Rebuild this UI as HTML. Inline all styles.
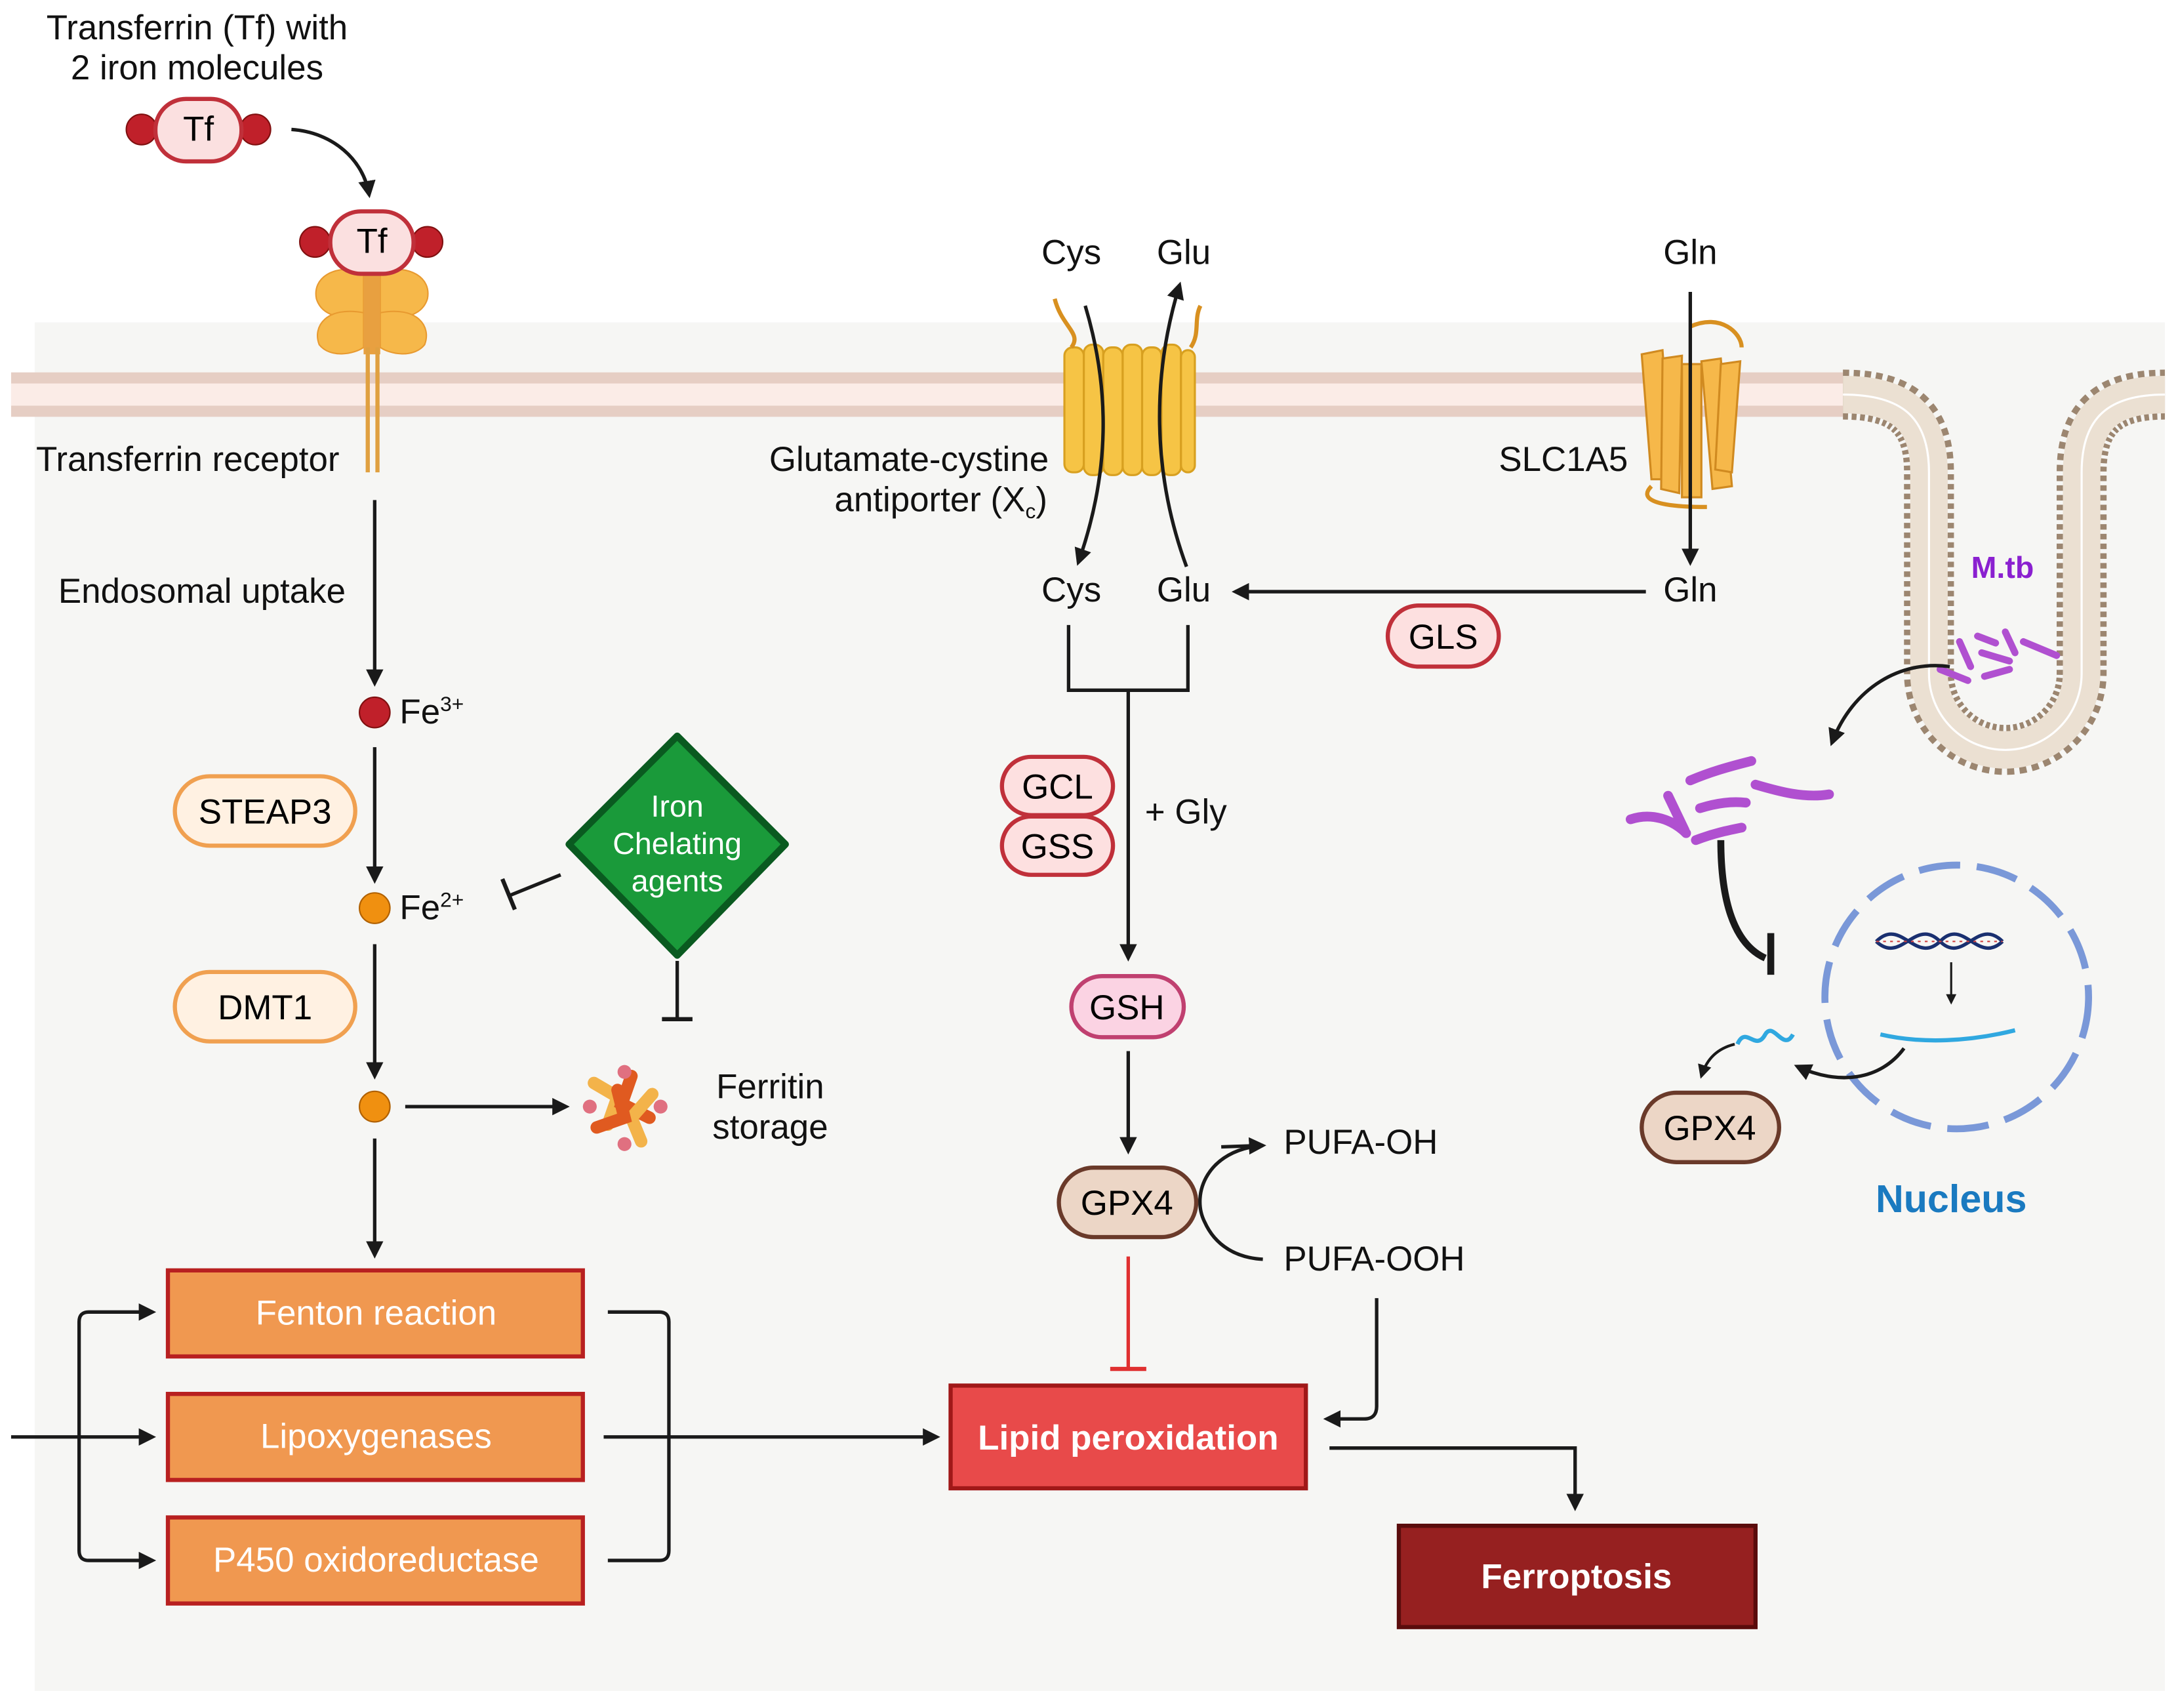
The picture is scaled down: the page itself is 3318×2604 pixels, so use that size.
<!DOCTYPE html>
<html><head><meta charset="utf-8"><style>
html,body{margin:0;padding:0;background:#fff;}
svg{display:block;}
text{font-family:"Liberation Sans",sans-serif;}
</style></head><body>
<svg width="3318" height="2604" viewBox="0 0 1568 1230" xmlns="http://www.w3.org/2000/svg">
<defs>
<marker id="a" viewBox="0 0 10 10" refX="8" refY="5" markerWidth="5" markerHeight="5" orient="auto-start-reverse"><path d="M0,0L10,5L0,10z" fill="#1a1a1a"/></marker>
</defs>
<rect x="25" y="232" width="1535" height="986" fill="#f6f6f4"/>
<!-- membrane -->
<rect x="8" y="268" width="1320" height="32" fill="#e6cec4"/>
<rect x="8" y="276" width="1320" height="16" fill="#fbece7"/>
<path d="M1328,284 C1370,284 1390,300 1390,340 L1390,485 A55,55 0 0 0 1500,485 L1500,340 C1500,300 1520,284 1560,284" fill="none" stroke="#9c8670" stroke-width="36" stroke-dasharray="4 3"/>
<path d="M1328,284 C1370,284 1390,300 1390,340 L1390,485 A55,55 0 0 0 1500,485 L1500,340 C1500,300 1520,284 1560,284" fill="none" stroke="#ebe0d2" stroke-width="27"/>
<path d="M1328,284 C1370,284 1390,300 1390,340 L1390,485 A55,55 0 0 0 1500,485 L1500,340 C1500,300 1520,284 1560,284" fill="none" stroke="#ffffff" stroke-width="1.5"/>

<g font-size="25" fill="#111">
<text x="142" y="28" text-anchor="middle">Transferrin (Tf) with</text>
<text x="142" y="57" text-anchor="middle">2 iron molecules</text>
<text x="26" y="339">Transferrin receptor</text>
<text x="42" y="434">Endosomal uptake</text>
<text x="772" y="190" text-anchor="middle">Cys</text>
<text x="853" y="190" text-anchor="middle">Glu</text>
<text x="1218" y="190" text-anchor="middle">Gln</text>
<text x="655" y="339" text-anchor="middle">Glutamate-cystine</text>
<text x="678" y="368" text-anchor="middle">antiporter (X<tspan font-size="15" dy="5">c</tspan><tspan dy="-5">)</tspan></text>
<text x="1080" y="339">SLC1A5</text>
<text x="772" y="433" text-anchor="middle">Cys</text>
<text x="853" y="433" text-anchor="middle">Glu</text>
<text x="1218" y="433" text-anchor="middle">Gln</text>
<text x="825" y="593">+ Gly</text>
<text x="288" y="521">Fe<tspan font-size="15" dy="-9">3+</tspan></text>
<text x="288" y="662">Fe<tspan font-size="15" dy="-9">2+</tspan></text>
<text x="555" y="791" text-anchor="middle">Ferritin</text>
<text x="555" y="820" text-anchor="middle">storage</text>
<text x="925" y="831">PUFA-OH</text>
<text x="925" y="915">PUFA-OOH</text>
</g>

<!-- Tf -->
<path d="M210,93 C240,95 262,115 266,140" fill="none" stroke="#1a1a1a" stroke-width="2.5" marker-end="url(#a)"/>
<circle cx="102" cy="93" r="11" fill="#c0202a" stroke="#801010"/><circle cx="184" cy="93" r="11" fill="#c0202a" stroke="#801010"/>
<rect x="112" y="71" width="62" height="45" rx="22" fill="#fbe0e0" stroke="#c0303a" stroke-width="3"/>
<text x="143" y="101" font-size="25" text-anchor="middle">Tf</text>
<!-- receptor -->
<path d="M262,195 C240,190 225,200 228,215 C232,228 245,228 262,232 Z M274,195 C296,190 311,200 308,215 C304,228 291,228 274,232Z" fill="#f6b84a" stroke="#e89a30"/>
<path d="M262,225 C235,220 225,235 230,248 C238,258 255,255 262,250Z M274,225 C301,220 311,235 306,248 C298,258 281,255 274,250Z" fill="#f6b84a" stroke="#e89a30"/>
<rect x="262" y="195" width="12" height="60" fill="#e8a040"/>
<line x1="265" y1="250" x2="265" y2="340" stroke="#e0a040" stroke-width="3"/><line x1="272" y1="250" x2="272" y2="340" stroke="#e0a040" stroke-width="3"/>
<circle cx="227" cy="174" r="11" fill="#c0202a" stroke="#801010"/><circle cx="308" cy="174" r="11" fill="#c0202a" stroke="#801010"/>
<rect x="238" y="152" width="60" height="45" rx="22" fill="#fbe0e0" stroke="#c0303a" stroke-width="3"/>
<text x="268" y="182" font-size="25" text-anchor="middle">Tf</text>

<!-- iron path -->
<g stroke="#1a1a1a" stroke-width="2.5" fill="none">
<line x1="270" y1="360" x2="270" y2="492" marker-end="url(#a)"/>
<line x1="270" y1="538" x2="270" y2="634" marker-end="url(#a)"/>
<line x1="270" y1="680" x2="270" y2="775" marker-end="url(#a)"/>
<line x1="292" y1="797" x2="408" y2="797" marker-end="url(#a)"/>
<line x1="270" y1="820" x2="270" y2="904" marker-end="url(#a)"/>
<line x1="404" y1="630" x2="367" y2="645"/><line x1="362" y1="633" x2="371" y2="655" stroke-width="3"/>
<line x1="488" y1="692" x2="488" y2="733"/><line x1="477" y1="734" x2="499" y2="734" stroke-width="3"/>
</g>
<circle cx="270" cy="513" r="11" fill="#c0202a" stroke="#801010"/>
<circle cx="270" cy="654" r="11" fill="#f09010" stroke="#b06000"/>
<circle cx="270" cy="797" r="11" fill="#f09010" stroke="#b06000"/>
<rect x="126" y="559" width="130" height="50" rx="25" fill="#fff1e2" stroke="#f0a050" stroke-width="3"/>
<text x="191" y="593" font-size="25" text-anchor="middle">STEAP3</text>
<rect x="126" y="700" width="130" height="50" rx="25" fill="#fff1e2" stroke="#f0a050" stroke-width="3"/>
<text x="191" y="734" font-size="25" text-anchor="middle">DMT1</text>
<!-- ferritin -->
<g stroke-width="9" stroke-linecap="round" fill="none">
<path d="M428,780 L445,790 L438,810" stroke="#f3b34a"/><path d="M455,775 L448,795 L468,805" stroke="#e05a20"/>
<path d="M470,788 L455,805 L462,822" stroke="#f3b34a"/><path d="M430,812 L450,805 L445,785" stroke="#e05a20"/>
</g>
<circle cx="425" cy="797" r="5" fill="#e07080"/><circle cx="476" cy="797" r="5" fill="#e07080"/><circle cx="450" cy="772" r="5" fill="#e07080"/><circle cx="450" cy="824" r="5" fill="#e07080"/>
<!-- diamond -->
<path d="M488,530 L566,608 L488,688 L410,608Z" fill="#1a9a3a" stroke="#0a5a20" stroke-width="5" stroke-linejoin="round"/>
<g font-size="22" fill="#fff" text-anchor="middle"><text x="488" y="588">Iron</text><text x="488" y="615">Chelating</text><text x="488" y="642">agents</text></g>

<!-- boxes -->
<g stroke="#b82020" stroke-width="3" fill="#f09850">
<rect x="121" y="915" width="299" height="62"/><rect x="121" y="1004" width="299" height="62"/><rect x="121" y="1093" width="299" height="62"/>
</g>
<g font-size="25" fill="#fff" text-anchor="middle">
<text x="271" y="954">Fenton reaction</text><text x="271" y="1043">Lipoxygenases</text><text x="271" y="1132">P450 oxidoreductase</text>
</g>
<g stroke="#1a1a1a" stroke-width="2.5" fill="none">
<line x1="8" y1="1035" x2="110" y2="1035" marker-end="url(#a)"/>
<path d="M110,945 L64,945 Q57,945 57,952 L57,1117 Q57,1124 64,1124 L110,1124" marker-start="url(#a)" marker-end="url(#a)"/>
<path d="M438,945 L475,945 Q482,945 482,952 L482,1117 Q482,1124 475,1124 L438,1124"/>
<line x1="435" y1="1035" x2="675" y2="1035" marker-end="url(#a)"/>
<path d="M958,1043 L1135,1043 L1135,1086" marker-end="url(#a)"/>
<path d="M992,935 L992,1013 Q992,1022 983,1022 L956,1022" marker-end="url(#a)"/>
</g>
<rect x="685" y="998" width="256" height="74" fill="#e84a4a" stroke="#a01818" stroke-width="3"/>
<text x="813" y="1044" font-size="25" font-weight="bold" fill="#fff" text-anchor="middle">Lipid peroxidation</text>
<rect x="1008" y="1099" width="257" height="73" fill="#962020" stroke="#5a0c0c" stroke-width="3"/>
<text x="1136" y="1144" font-size="25" font-weight="bold" fill="#fff" text-anchor="middle">Ferroptosis</text>

<!-- GSH path -->
<g stroke="#1a1a1a" stroke-width="2.5" fill="none">
<path d="M770,450 L770,497 L856,497 L856,450"/>
<line x1="813" y1="497" x2="813" y2="690" marker-end="url(#a)"/>
<line x1="813" y1="757" x2="813" y2="829" marker-end="url(#a)"/>
<line x1="1186" y1="426" x2="890" y2="426" marker-end="url(#a)"/>
<path d="M910,825 C870,828 858,860 868,880 C876,898 892,906 910,907"/>
<path d="M880,826 L910,825" marker-end="url(#a)"/>
</g>
<line x1="813" y1="905" x2="813" y2="985" stroke="#e03030" stroke-width="2.5"/><line x1="800" y1="986" x2="826" y2="986" stroke="#e03030" stroke-width="3"/>
<rect x="722" y="545" width="80" height="42" rx="21" fill="#fde0e0" stroke="#c0303a" stroke-width="3"/>
<rect x="722" y="588" width="80" height="42" rx="21" fill="#fde0e0" stroke="#c0303a" stroke-width="3"/>
<text x="762" y="575" font-size="25" text-anchor="middle">GCL</text><text x="762" y="618" font-size="25" text-anchor="middle">GSS</text>
<rect x="772" y="703" width="81" height="44" rx="22" fill="#fbd3e3" stroke="#c04070" stroke-width="3"/>
<text x="812" y="734" font-size="25" text-anchor="middle">GSH</text>
<rect x="1000" y="436" width="80" height="44" rx="22" fill="#fde0e0" stroke="#c0303a" stroke-width="3"/>
<text x="1040" y="467" font-size="25" text-anchor="middle">GLS</text>
<rect x="763" y="841" width="99" height="50" rx="25" fill="#ecd6c6" stroke="#6a3a2a" stroke-width="3"/>
<text x="812" y="875" font-size="25" text-anchor="middle">GPX4</text>

<!-- antiporter -->
<g fill="#f6c445" stroke="#d8a020" stroke-width="1.5">
<rect x="767" y="250" width="14" height="90" rx="6"/><rect x="781" y="248" width="14" height="94" rx="6"/><rect x="795" y="250" width="14" height="92" rx="6"/>
<rect x="809" y="248" width="14" height="94" rx="6"/><rect x="823" y="250" width="14" height="92" rx="6"/><rect x="837" y="248" width="14" height="94" rx="6"/><rect x="851" y="252" width="10" height="88" rx="5"/>
</g>
<path d="M760,215 C765,235 780,240 772,250 M858,250 C865,240 860,230 865,220" stroke="#d89020" stroke-width="3" fill="none"/>
<g stroke="#1a1a1a" stroke-width="2.5" fill="none">
<path d="M782,220 C800,280 800,340 777,405" marker-end="url(#a)"/>
<path d="M855,408 C830,340 830,270 850,205" marker-end="url(#a)"/>
</g>
<!-- SLC1A5 -->
<g fill="#f6b84a" stroke="#d08a20" stroke-width="1.5">
<path d="M1183,255 L1198,252 L1205,345 L1190,345Z"/><path d="M1198,258 L1212,256 L1210,355 L1197,352Z"/><path d="M1212,262 L1226,262 L1226,358 L1212,358Z"/>
<path d="M1226,260 L1240,258 L1248,350 L1234,352Z"/><path d="M1240,262 L1254,260 L1248,340 L1236,338Z"/>
</g>
<path d="M1218,235 C1240,225 1255,240 1255,250 M1190,350 C1180,360 1195,365 1230,365" stroke="#d89020" stroke-width="3" fill="none"/>
<line x1="1218" y1="210" x2="1218" y2="405" stroke="#1a1a1a" stroke-width="2.5" marker-end="url(#a)"/>

<!-- M.tb -->
<text x="1443" y="416" font-size="22" font-weight="bold" fill="#8a20d0" text-anchor="middle">M.tb</text>
<g stroke="#b050d0" stroke-width="5" stroke-linecap="round" fill="none">
<path d="M1398,482 L1418,490"/><path d="M1412,462 L1420,480"/><path d="M1425,458 L1438,463"/><path d="M1428,470 L1448,476"/><path d="M1430,487 L1448,482"/><path d="M1458,462 L1482,472"/><path d="M1445,455 L1452,470"/>
</g>
<g stroke="#b050d0" stroke-width="7" stroke-linecap="round" fill="none">
<path d="M1175,590 C1190,585 1205,590 1215,600"/><path d="M1202,573 L1214,598"/><path d="M1218,562 C1232,556 1246,552 1262,548"/><path d="M1225,582 C1238,578 1248,577 1258,578"/><path d="M1265,565 C1282,570 1300,575 1318,572"/><path d="M1222,605 C1235,600 1245,598 1255,596"/>
</g>
<path d="M1405,480 C1370,475 1335,495 1320,535" stroke="#1a1a1a" stroke-width="2.5" fill="none" marker-end="url(#a)"/>
<path d="M1240,605 C1240,650 1250,680 1272,690" stroke="#1a1a1a" stroke-width="5" fill="none"/>
<line x1="1276" y1="672" x2="1276" y2="702" stroke="#1a1a1a" stroke-width="5"/>
<!-- nucleus -->
<circle cx="1410" cy="718" r="95" fill="none" stroke="#7a98d8" stroke-width="5" stroke-dasharray="30 12"/>
<path d="M1352,678 C1370,660 1380,695 1398,678 C1415,660 1425,695 1443,678 M1352,678 C1370,695 1380,660 1398,678 C1415,695 1425,660 1443,678" stroke="#1a3070" stroke-width="2.5" fill="none"/>
<path d="M1352,678 L1443,678" stroke="#d04040" stroke-width="1" stroke-dasharray="2 3"/>
<line x1="1406" y1="693" x2="1406" y2="722" stroke="#1a1a1a" stroke-width="1.5" marker-end="url(#a)"/>
<path d="M1355,745 C1385,752 1420,750 1452,742" stroke="#30a8e0" stroke-width="3" fill="none"/>
<path d="M1252,752 C1258,738 1265,758 1272,745 C1278,735 1285,758 1292,745" stroke="#30a8e0" stroke-width="3" fill="none"/>
<path d="M1372,755 C1355,778 1325,782 1295,768" stroke="#1a1a1a" stroke-width="2.5" fill="none" marker-end="url(#a)"/>
<path d="M1250,752 C1238,755 1230,762 1226,775" stroke="#1a1a1a" stroke-width="2" fill="none" marker-end="url(#a)"/>
<rect x="1183" y="787" width="99" height="50" rx="25" fill="#ecd6c6" stroke="#6a3a2a" stroke-width="3"/>
<text x="1232" y="821" font-size="25" text-anchor="middle">GPX4</text>
<text x="1406" y="873" font-size="28" font-weight="bold" fill="#1a7ac0" text-anchor="middle">Nucleus</text>
</svg>
</body></html>
